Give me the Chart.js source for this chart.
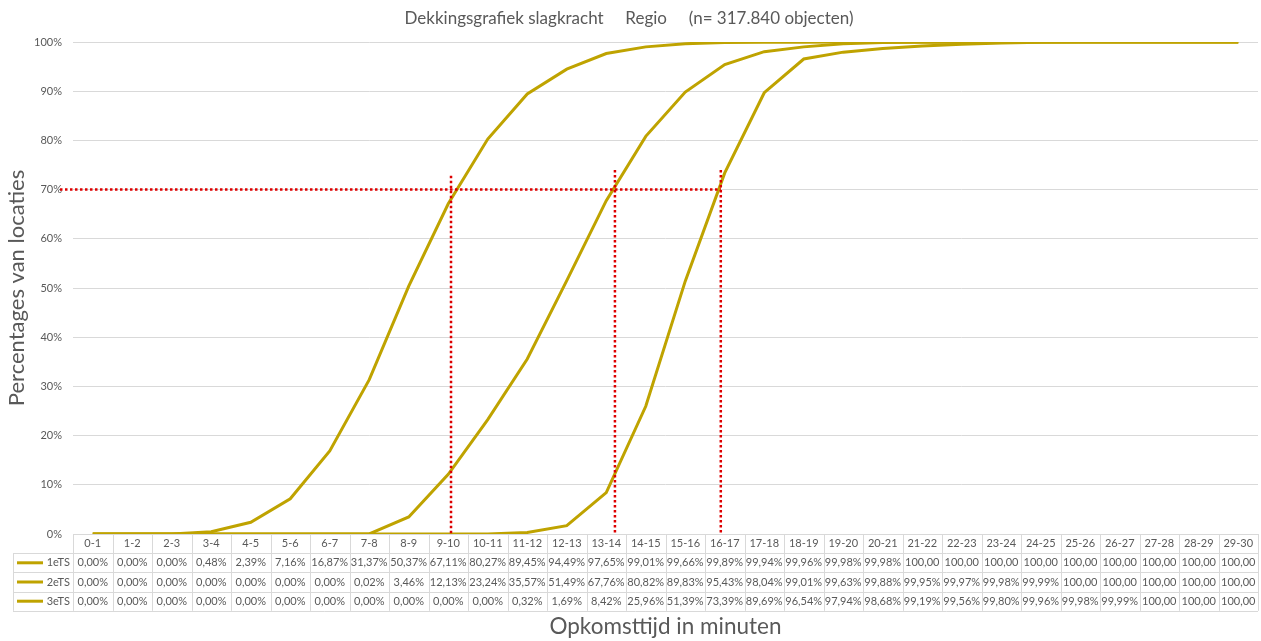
<!DOCTYPE html>
<html>
<head>
<meta charset="utf-8">
<script src="https://cdn.jsdelivr.net/npm/chart.js@4.4.1/dist/chart.umd.min.js"></script>
<style>
  html, body { margin: 0; padding: 0; background: #fff; }
  #wrap { width: 1261px; height: 641px; }
</style>
</head>
<body>
<div id="wrap"><canvas id="coverChart" width="1261" height="641"></canvas></div>
<script>
// opkomsttijd klassen (minuten)
const categories = ['0-1', '1-2', '2-3', '3-4', '4-5', '5-6', '6-7', '7-8', '8-9', '9-10',
    '10-11', '11-12', '12-13', '13-14', '14-15', '15-16', '16-17', '17-18', '18-19', '19-20',
    '20-21', '21-22', '22-23', '23-24', '24-25', '25-26', '26-27', '27-28', '28-29', '29-30'];

const seriesNames = ['1eTS', '2eTS', '3eTS'];

const ts1 = [0, 0, 0, 0.48, 2.39, 7.16, 16.87, 31.37, 50.37, 67.11,
    80.27, 89.45, 94.49, 97.65, 99.01, 99.66, 99.89, 99.94, 99.96, 99.98,
    99.98, 100, 100, 100, 100, 100, 100, 100, 100, 100];
const ts2 = [0, 0, 0, 0, 0, 0, 0, 0.02, 3.46, 12.13,
    23.24, 35.57, 51.49, 67.76, 80.82, 89.83, 95.43, 98.04, 99.01, 99.63,
    99.88, 99.95, 99.97, 99.98, 99.99, 100, 100, 100, 100, 100];
const ts3 = [0, 0, 0, 0, 0, 0, 0, 0, 0, 0,
    0, 0.32, 1.69, 8.42, 25.96, 51.39, 73.39, 89.69, 96.54, 97.94,
    98.68, 99.19, 99.56, 99.80, 99.96, 99.98, 99.99, 100, 100, 100];

const yTicks = [0, 10, 20, 30, 40, 50, 60, 70, 80, 90, 100];

// 70%-norm en de hand getekende hulplijnen (categorie-index, hoogte in %)
const normLevel = 70;
const markerIdx = [9.07, 13.22, 15.9];
const markerTop = [72.8, 74, 74];

const lineColor = '#bfa300';
const textColor = '#595959';
const gridColor = '#d9d9d9';
const fontFam = 'Lato, "Open Sans", sans-serif';

function fmt(v) {
    if (v >= 100) return '100,00';
    return v.toFixed(2).replace('.', ',') + '%';
}

// rode stippellijnen
const markerPlugin = {
    id: 'markers',
    afterDatasetsDraw(chart) {
        const ctx = chart.ctx;
        const x = chart.scales.x;
        const y = chart.scales.y;
        ctx.save();
        ctx.strokeStyle = '#dd0000';
        ctx.lineWidth = 2.5;
        ctx.setLineDash([2.5, 2.5]);
        const yn = y.getPixelForValue(normLevel);
        const xEnd = x.getPixelForValue(markerIdx[markerIdx.length - 1]);
        ctx.beginPath();
        ctx.moveTo(chart.chartArea.left - 13, yn);
        ctx.lineTo(xEnd, yn);
        ctx.stroke();
        markerIdx.forEach((m, i) => {
            const px = x.getPixelForValue(m);
            ctx.beginPath();
            ctx.moveTo(px, y.getPixelForValue(markerTop[i]));
            ctx.lineTo(px, y.getPixelForValue(0));
            ctx.stroke();
        });
        ctx.restore();
    }
};

// gegevenstabel onder de grafiek
const tablePlugin = {
    id: 'dataTable',
    afterDraw(chart) {
        const ctx = chart.ctx;
        const x = chart.scales.x;
        const top = chart.chartArea.bottom;
        const rowH = 19.2;
        const leftEdge = 13;
        const n = categories.length;
        const colW = (x.right - x.left) / n;
        const bottom = top + rowH * 4;
        ctx.save();
        ctx.strokeStyle = gridColor;
        ctx.lineWidth = 1;
        ctx.beginPath();
        ctx.moveTo(x.left, top + 0.5);
        ctx.lineTo(x.right, top + 0.5);
        for (let k = 1; k <= 4; k++) {
            const yy = Math.round(top + rowH * k) + 0.5;
            ctx.moveTo(leftEdge, yy);
            ctx.lineTo(x.right, yy);
        }
        for (let i = 0; i <= n; i++) {
            const xx = Math.round(x.left + colW * i) + 0.5;
            ctx.moveTo(xx, top);
            ctx.lineTo(xx, bottom);
        }
        ctx.moveTo(leftEdge + 0.5, top + rowH);
        ctx.lineTo(leftEdge + 0.5, bottom);
        ctx.stroke();

        ctx.font = '11px ' + fontFam;
        ctx.textBaseline = 'middle';
        chart.data.datasets.forEach((ds, s) => {
            const cy = top + rowH * (s + 1.5);
            ctx.strokeStyle = ds.borderColor;
            ctx.lineWidth = 3;
            ctx.beginPath();
            ctx.moveTo(17, cy);
            ctx.lineTo(43, cy);
            ctx.stroke();
            ctx.fillStyle = textColor;
            ctx.textAlign = 'right';
            ctx.fillText(ds.label, x.left - 3, cy);
            ctx.textAlign = 'center';
            ds.data.forEach((v, i) => {
                ctx.fillText(fmt(v), x.left + colW * (i + 0.5), cy);
            });
        });
        ctx.restore();
    }
};

document.addEventListener('DOMContentLoaded', function () {
    const ctx = document.getElementById('coverChart').getContext('2d');
    const data = [ts1, ts2, ts3];
    new Chart(ctx, {
        type: 'line',
        data: {
            labels: categories,
            datasets: seriesNames.map((name, i) => ({
                label: name,
                data: data[i],
                borderColor: lineColor,
                backgroundColor: lineColor,
                borderWidth: 3,
                pointRadius: 0,
                tension: 0,
                fill: false
            }))
        },
        options: {
            responsive: false,
            animation: false,
            layout: { padding: { left: 0, right: 3, top: 0, bottom: 0 } },
            plugins: {
                legend: { display: false },
                tooltip: { enabled: false },
                title: {
                    display: true,
                    text: 'Dekkingsgrafiek slagkracht     Regio     (n= 317.840 objecten)',
                    color: textColor,
                    font: { family: fontFam, size: 17, weight: 'normal' },
                    padding: { top: 8, bottom: 13.6 }
                }
            },
            scales: {
                x: {
                    offset: true,
                    grid: { display: false, drawTicks: false },
                    border: { display: false },
                    ticks: {
                        color: textColor,
                        font: { family: fontFam, size: 11 },
                        padding: 3,
                        maxRotation: 0,
                        autoSkip: false
                    },
                    title: {
                        display: true,
                        text: 'Opkomsttijd in minuten',
                        color: textColor,
                        font: { family: fontFam, size: 22.5 },
                        padding: { top: 0, bottom: 0.5 }
                    },
                    afterFit(scale) { scale.height = 107; }
                },
                y: {
                    min: 0,
                    max: 100,
                    afterBuildTicks(scale) { scale.ticks = yTicks.map(v => ({ value: v })); },
                    grid: { color: gridColor, drawTicks: false },
                    border: { display: false },
                    ticks: {
                        color: textColor,
                        font: { family: fontFam, size: 11 },
                        padding: 11,
                        callback: v => v + '%'
                    },
                    title: {
                        display: true,
                        text: 'Percentages van locaties',
                        color: textColor,
                        font: { family: fontFam, size: 22 },
                        padding: { top: 4, bottom: 0 }
                    },
                    afterFit(scale) { scale.width = 73; }
                }
            }
        },
        plugins: [markerPlugin, tablePlugin]
    });
});
</script>
</body>
</html>
